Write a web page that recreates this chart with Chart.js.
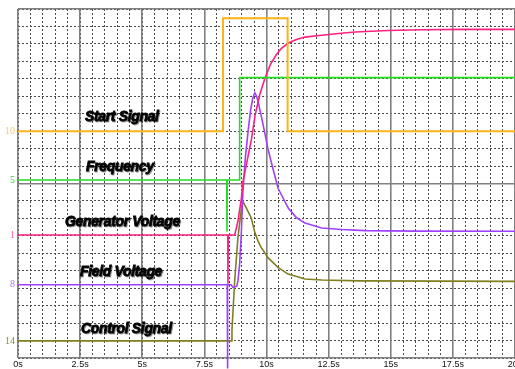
<!DOCTYPE html>
<html>
<head>
<meta charset="utf-8">
<script src="https://cdn.jsdelivr.net/npm/chart.js@4.4.0/dist/chart.umd.min.js"></script>
<style>
  html, body { margin: 0; padding: 0; background: #fff; overflow: hidden; }
  #wrap { width: 515px; height: 369px; overflow: hidden; }
</style>
</head>
<body>
<div id="wrap"><canvas id="scope" width="530" height="369"></canvas></div>
<script>
// time axis tick labels (seconds)
const timeTicks = [0, 2.5, 5, 7.5, 10, 12.5, 15, 17.5, 20];

// channel names, their left-hand marker labels and baselines (in grid divisions)
const channelNames = ['Start Signal', 'Frequency', 'Generator Voltage', 'Field Voltage', 'Control Signal'];
const channelMarks = ['10', '5', '1', '8', '14'];
const channelBase = [13, 10.2, 7.05, 4.2, 0.98];

// Start Signal
const startTime = [0, 8.25, 8.25, 10.85, 10.85, 20];
const startVal = [13, 13, 19.47, 19.47, 13, 13];

// Frequency
const freqTime = [0, 8.40, 8.41, 8.42, 8.92, 8.92, 20];
const freqVal = [10.2, 10.2, 7.25, 10.2, 10.2, 16.07, 16.07];

// Generator Voltage
const genTime = [0, 8.44, 8.45, 8.46, 8.72, 8.85, 8.99, 9.05, 9.22, 9.39, 9.54, 9.73, 9.93, 10.15, 10.38, 10.6, 10.88, 11.2, 11.55, 12.22, 12.9, 13.56, 14.89, 16.25, 18, 20];
const genVal = [7.05, 7.05, 4.25, 7.05, 7.05, 7.83, 9.15, 10.1, 11.3, 12.5, 13.9, 15.1, 16.0, 16.8, 17.35, 17.75, 18.05, 18.25, 18.39, 18.5, 18.6, 18.68, 18.77, 18.81, 18.83, 18.83];

// Field Voltage
const fieldTime = [0, 8.42, 8.43, 8.44, 8.58, 8.65, 8.8, 8.85, 8.92, 8.99, 9.05, 9.15, 9.26, 9.36, 9.45, 9.53, 9.6, 9.66, 9.8, 9.93, 10.06, 10.25, 10.47, 10.88, 11.2, 11.55, 12.22, 13.03, 13.96, 16, 20];
const fieldVal = [4.2, 4.2, -0.6, 4.2, 4.2, 4.05, 4.1, 4.4, 5.4, 7.26, 9.5, 11.5, 13.0, 14.2, 14.9, 15.2, 15.0, 14.7, 13.8, 12.9, 11.97, 10.9, 9.71, 8.58, 8.05, 7.73, 7.45, 7.36, 7.30, 7.27, 7.26];

// Control Signal
const ctrlTime = [0, 8.58, 8.61, 8.72, 8.85, 8.99, 9.05, 9.15, 9.26, 9.39, 9.53, 9.66, 9.79, 10.06, 10.46, 10.87, 11.55, 12.22, 13.76, 20];
const ctrlVal = [0.98, 0.98, 1.6, 4.43, 6.88, 8.58, 8.96, 8.7, 8.39, 8.01, 7.2, 6.7, 6.32, 5.75, 5.19, 4.81, 4.53, 4.47, 4.42, 4.39];

const lineColors = ['#FFB31A', '#22DD22', '#FF2080', '#A040FF', '#7F7F1F'];
const markColors = ['#FFC870', '#44CC44', '#FF5AA0', '#B070FF', '#8A8A3A'];

function pts(ts, vs) {
  return ts.map((t, i) => ({ x: t, y: vs[i] }));
}

const series = [
  pts(startTime, startVal),
  pts(freqTime, freqVal),
  pts(genTime, genVal),
  pts(fieldTime, fieldVal),
  pts(ctrlTime, ctrlVal)
];

// where each channel name is written (pixels inside the plot)
const namePos = [[85, 121], [86, 171], [65, 226], [80, 276], [81, 333]];

const channelNamesPlugin = {
  id: 'channelNames',
  afterDatasetsDraw(chart) {
    const ctx = chart.ctx;
    ctx.save();
    ctx.font = 'bold italic 14px "Liberation Sans", Arial, sans-serif';
    ctx.letterSpacing = '-0.35px';
    ctx.textBaseline = 'alphabetic';
    ctx.fillStyle = '#000';
    ctx.strokeStyle = '#000';
    ctx.lineWidth = 0.8;
    ctx.shadowColor = 'rgba(0,0,0,0.35)';
    ctx.shadowOffsetX = 1;
    ctx.shadowOffsetY = 1;
    channelNames.forEach((name, i) => {
      ctx.fillText(name, namePos[i][0], namePos[i][1]);
      ctx.strokeText(name, namePos[i][0], namePos[i][1]);
    });
    ctx.restore();
  }
};

new Chart(document.getElementById('scope'), {
  type: 'line',
  data: {
    datasets: series.map((d, i) => ({
      label: channelNames[i],
      data: d,
      borderColor: lineColors[i],
      borderWidth: i === 0 ? 2 : 1.6,
      pointRadius: 0,
      tension: 0,
      fill: false,
      clip: i === 3 ? false : undefined
    }))
  },
  options: {
    responsive: false,
    animation: false,
    events: [],
    layout: { padding: { left: 0, right: 15, top: 5, bottom: 0 } },
    plugins: { legend: { display: false }, tooltip: { enabled: false } },
    scales: {
      x: {
        type: 'linear',
        position: 'bottom',
        min: 0, max: 20,
        afterBuildTicks: s => { s.ticks = timeTicks.map(v => ({ value: v })); },
        ticks: {
          callback: v => v + 's',
          font: { family: '"Liberation Sans Narrow", "Liberation Sans", sans-serif', size: 9 },
          color: '#111',
          padding: 1,
          maxRotation: 0,
          autoSkip: false
        },
        grid: { color: '#808080', lineWidth: 1.6, drawTicks: false, z: -1 },
        border: { display: false },
        afterFit: s => { s.height = 11; }
      },
      xMinor: {
        type: 'linear',
        position: 'bottom',
        min: 0, max: 20,
        ticks: { display: false, stepSize: 0.5 },
        grid: { color: '#4a4a4a', lineWidth: 1, drawTicks: false, z: -2 },
        border: { display: false, dash: [2, 2] },
        afterFit: s => { s.height = 0; }
      },
      y: {
        type: 'linear',
        position: 'left',
        min: 0, max: 20,
        afterBuildTicks: s => { s.ticks = channelBase.map(v => ({ value: v })); },
        ticks: {
          callback: (v, i) => channelMarks[i],
          color: c => markColors[c.index],
          font: { family: '"Liberation Serif", serif', size: 10 },
          padding: 3,
          autoSkip: false
        },
        grid: { display: false, drawTicks: false },
        border: { display: false },
        afterFit: s => { s.width = 18; }
      },
      yMinor: {
        type: 'linear',
        position: 'left',
        min: 0, max: 20,
        ticks: { display: false, stepSize: 1 },
        grid: { color: '#4a4a4a', lineWidth: 1, drawTicks: false, z: -2 },
        border: { display: false, dash: [2, 2] },
        afterFit: s => { s.width = 0; }
      },
      yMajor: {
        type: 'linear',
        position: 'left',
        min: 0, max: 20,
        ticks: { display: false, stepSize: 10 },
        grid: { color: '#808080', lineWidth: 1.6, drawTicks: false, z: -1 },
        border: { display: false },
        afterFit: s => { s.width = 0; }
      }
    }
  },
  plugins: [channelNamesPlugin]
});
</script>
</body>
</html>
